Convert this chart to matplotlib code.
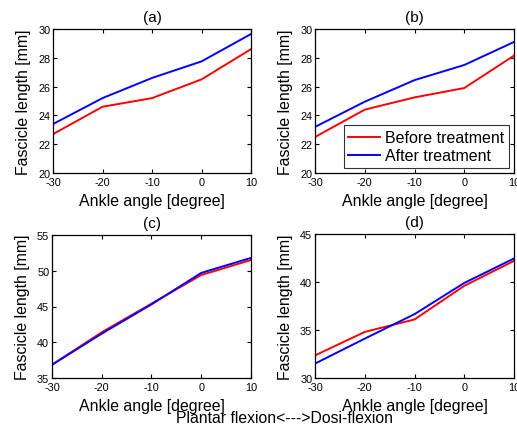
import matplotlib
matplotlib.use("Agg")
import matplotlib.pyplot as plt

plt.rcParams['font.family'] = ['Liberation Sans', 'DejaVu Sans']
plt.rcParams['axes.unicode_minus'] = False

angles = [-30, -20, -10, 0, 10]
a_before = [22.7, 24.6, 25.2, 26.5, 28.6]
a_after = [23.4, 25.2, 26.6, 27.75, 29.65]
b_before = [22.5, 24.4, 25.25, 25.9, 28.15]
b_after = [23.2, 24.95, 26.45, 27.5, 29.1]
c_before = [36.85, 41.4, 45.4, 49.4, 51.5]
c_after = [36.85, 41.2, 45.3, 49.7, 51.8]
d_before = [32.35, 34.8, 36.1, 39.6, 42.2]
d_after = [31.5, 34.1, 36.65, 39.9, 42.45]

titles = ['(a)', '(b)', '(c)', '(d)']
ylims = [(20, 30), (20, 30), (35, 55), (30, 45)]
yticks = [[20, 22, 24, 26, 28, 30], [20, 22, 24, 26, 28, 30],
          [35, 40, 45, 50, 55], [30, 35, 40, 45]]
xticks = [-30, -20, -10, 0, 10]
series = [(a_before, a_after), (b_before, b_after),
          (c_before, c_after), (d_before, d_after)]

W, H = 517, 427
fig = plt.figure(figsize=(W / 100, H / 100), dpi=100)

# pixel boxes: left, top, right, bottom
boxes = [(53, 30, 251, 174), (315, 30, 514, 174),
         (52, 236, 251, 379), (315, 235, 514, 379)]

for i, (l, t, r, b) in enumerate(boxes):
    ax = fig.add_axes([l / W, 1 - b / H, (r - l) / W, (b - t) / H])
    bef, aft = series[i]
    ax.plot(angles, bef, color='#ff0000', lw=1.4, label='Before treatment')
    ax.plot(angles, aft, color='#0000ff', lw=1.4, label='After treatment')
    ax.set_xlim(-30, 10)
    ax.set_ylim(*ylims[i])
    ax.set_xticks(xticks)
    ax.set_yticks(yticks[i])
    ax.tick_params(direction='in', top=True, right=True, labelsize=7.8,
                   length=3, width=0.8)
    ax.tick_params(axis='x', pad=3)
    ax.tick_params(axis='y', pad=2)
    ax.set_title(titles[i], fontsize=11, pad=6)
    ax.set_xlabel('Ankle angle [degree]', fontsize=11.4, labelpad=4)
    ax.set_ylabel('Fascicle length [mm]', fontsize=11.4, labelpad=5)
    for s in ax.spines.values():
        s.set_linewidth(0.9)
    if i == 1:
        leg = ax.legend(loc='lower right', fontsize=11.5, frameon=True,
                        fancybox=False, edgecolor='black', borderaxespad=0.3,
                        handlelength=2.0, borderpad=0.3, labelspacing=0.2,
                        handletextpad=0.3)
        leg.get_frame().set_linewidth(0.8)

fig.text(284 / W, 1 - 419 / H, 'Plantar flexion<--->Dosi-flexion',
         ha='center', va='center', fontsize=11.3)

fig.savefig('out.png', dpi=100)
